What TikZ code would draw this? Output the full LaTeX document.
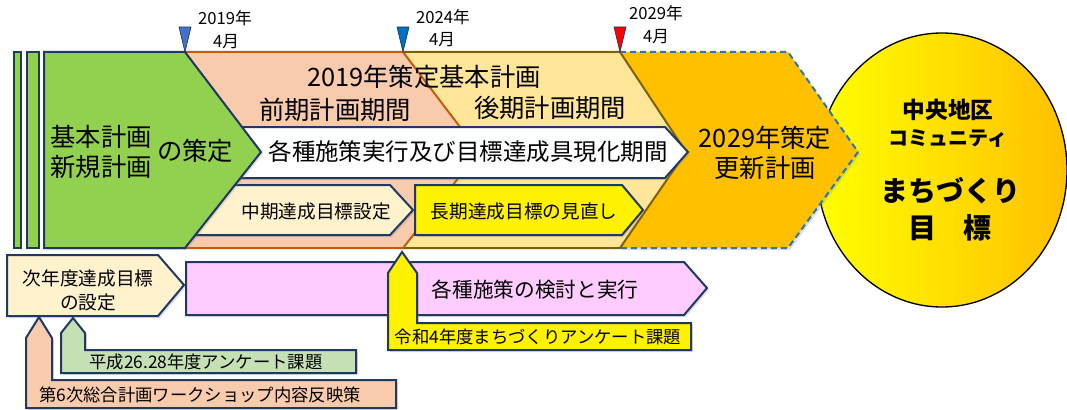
\documentclass[tikz,border=0pt]{standalone}
\usepackage{fontspec}
\setmainfont{Noto Sans CJK JP}
\usetikzlibrary{shadows}
\definecolor{navy}{HTML}{1F3864}
\definecolor{leaf}{HTML}{92D050}
\definecolor{salmon}{HTML}{F8CBAD}
\definecolor{rust}{HTML}{C55A11}
\definecolor{sand}{HTML}{FFE699}
\definecolor{olive}{HTML}{7F6000}
\definecolor{amber}{HTML}{FFC000}
\definecolor{steel}{HTML}{2E75B6}
\definecolor{cream}{HTML}{FFF2CC}
\definecolor{lilac}{HTML}{FFCCFF}
\definecolor{mint}{HTML}{C5E0B4}
\definecolor{skyblue}{HTML}{4472C4}
\definecolor{deepblue}{HTML}{0070C0}
\tikzset{
  plate/.style={draw=navy, line width=1.5pt, line join=miter},
  soft/.style={drop shadow={opacity=.25, shadow xshift=1.5pt, shadow yshift=-1.5pt}},
  big/.style={inner sep=0pt, align=center, font=\fontsize{19pt}{23pt}\selectfont},
  mid/.style={inner sep=0pt, align=center, font=\fontsize{14pt}{18pt}\selectfont},
  note/.style={inner sep=0pt, align=center, font=\fontsize{13pt}{16pt}\selectfont},
  tiny/.style={inner sep=0pt, align=center, font=\fontsize{12.5pt}{14pt}\selectfont},
  pin/.style={line width=.5pt, draw=navy}
}
\begin{document}
\begin{tikzpicture}[x=0.75pt, y=-0.75pt]
  \useasboundingbox (0,0) rectangle (1067,410);
  \draw[line width=1pt, left color=yellow, right color=amber]
    (942,170) ellipse [x radius=125, y radius=137];
  \fill[amber, soft] (620,52) -- (788,52) -- (858,152) -- (788,248) -- (620,248) -- cycle;
  \draw[steel, line width=1.5pt, dash pattern=on 4.5pt off 3pt]
    (620,52) -- (788,52) -- (858,152) -- (788,248) -- (620,248);
  \draw[fill=sand, draw=olive, line width=1.5pt]
    (403,52) -- (620,52) -- (686,152) -- (620,248) -- (403,248) -- cycle;
  \draw[fill=salmon, draw=rust, line width=1.5pt]
    (185,52) -- (403,52) -- (479,152) -- (403,248) -- (185,248) -- cycle;
  \draw[plate, fill=white, soft] (235,127) -- (665,127) -- (688,152) -- (665,178) -- (235,178) -- cycle;
  \draw[plate, fill=cream, soft] (190,185) -- (390,185) -- (413,210) -- (390,235) -- (190,235) -- cycle;
  \draw[plate, fill=yellow, soft] (415,185) -- (622,185) -- (643,210) -- (622,235) -- (415,235) -- cycle;
  \draw[plate, fill=leaf, soft] (44,52) -- (185,52) -- (261,152) -- (185,248) -- (44,248) -- cycle;
  \draw[plate, fill=leaf] (14,52) rectangle (21,248);
  \draw[plate, fill=leaf] (27,52) rectangle (39,248);

  \draw[pin, fill=skyblue] (179,27) -- (191,27) -- (185,52) -- cycle;
  \draw[pin, fill=deepblue] (397,27) -- (409,27) -- (403,52) -- cycle;
  \draw[pin, fill=red] (614,27) -- (626,27) -- (620,52) -- cycle;
  \node[tiny] (y19) at (225,18) {2019年};
  \node[tiny] (m19) at (226,42) {4月};
  \node[tiny] (y24) at (443,17) {2024年};
  \node[tiny] (m24) at (442,40) {4月};
  \node[tiny] (y29) at (656,13) {2029年};
  \node[tiny] (m29) at (656,37) {4月};

  \node[big] (plan) at (101,152) {基本計画\\新規計画};
  \node[big] (sakutei) at (195,151) {の策定};
  \node[big] (basic) at (424,77) {2019年策定基本計画};
  \node[big] (early) at (335,110) {前期計画期間};
  \node[big] (late) at (550,108) {後期計画期間};
  \node[big, font=\fontsize{17.6pt}{21pt}\selectfont] (exec) at (468,152) {各種施策実行及び目標達成具現化期間};
  \node[big] (renew) at (765,153) {2029年策定\\更新計画};
  \node[mid] (midgoal) at (316,211) {中期達成目標設定};
  \node[mid] (longgoal) at (524,211) {長期達成目標の見直し};

  \node[inner sep=0pt, font=\bfseries\fontsize{17pt}{21pt}\selectfont] (area) at (948,110) {中央地区};
  \node[inner sep=0pt, font=\bfseries\fontsize{15pt}{19pt}\selectfont] (community) at (948,138) {コミュニティ};
  \node[inner sep=0pt, align=center, font=\bfseries\fontsize{21pt}{28pt}\selectfont] (goal) at (950,209) {まちづくり\\目\quad 標};

  \draw[plate, fill=cream, soft] (7,255) -- (158,255) -- (184,285) -- (158,316) -- (7,316) -- cycle;
  \node[mid] (next) at (88,290) {次年度達成目標\\の設定};
  \draw[plate, fill=lilac, soft] (186,262) -- (684,262) -- (707,288) -- (684,315) -- (186,315) -- cycle;
  \node[big, font=\fontsize{15.5pt}{19pt}\selectfont] (measures) at (535,290) {各種施策の検討と実行};

  \draw[plate, fill=salmon, soft] (26,408) -- (26,338) -- (39,317) -- (52,338) -- (52,380) -- (396,380) -- (396,408) -- cycle;
  \node[note] (ws) at (200,395) {第6次総合計画ワークショップ内容反映策};
  \draw[plate, fill=mint, soft] (61,373) -- (61,333) -- (73,318) -- (85,333) -- (85,350) -- (356,350) -- (356,373) -- cycle;
  \node[note] (survey) at (206,362) {平成26.28年度アンケート課題};
  \draw[plate, fill=yellow, soft] (388,350) -- (388,273) -- (402,252) -- (417,273) -- (417,323) -- (691,323) -- (691,350) -- cycle;
  \node[note] (reiwa) at (538,337) {令和4年度まちづくりアンケート課題};
\end{tikzpicture}
\end{document}
